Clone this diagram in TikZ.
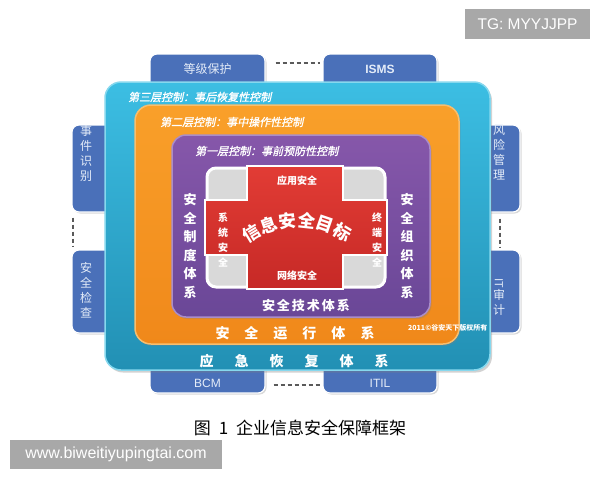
\documentclass[tikz,border=0pt]{standalone}
\usepackage{fontspec}
\setmainfont{Liberation Sans}
\newfontfamily\cjk{Noto Sans CJK SC}
\newfontfamily\cjksl[FakeSlant=0.22,FakeBold=1.2]{Noto Sans CJK SC}
\usetikzlibrary{shadows}
\definecolor{tabblue}{HTML}{4A70B9}
\definecolor{tabtxtc}{HTML}{E4ECF8}
\definecolor{cyanT}{HTML}{3CBEE3}
\definecolor{cyanB}{HTML}{2290B4}
\definecolor{cyanL}{HTML}{86D8EE}
\definecolor{orangeT}{HTML}{F9A02A}
\definecolor{orangeB}{HTML}{F0881A}
\definecolor{orangeL}{HTML}{F7BE6E}
\definecolor{purpT}{HTML}{8657AA}
\definecolor{purpB}{HTML}{6A4797}
\definecolor{purpL}{HTML}{A98DC9}
\definecolor{redT}{HTML}{E23C35}
\definecolor{redB}{HTML}{C62926}
\definecolor{redL}{HTML}{9E1E1C}
\definecolor{grayc}{HTML}{D9D9D9}
\definecolor{wm}{HTML}{A8A8A8}
\definecolor{dashc}{HTML}{5A5A5A}
\tikzset{
  tabbox/.style={draw=white, line width=1.2pt, fill=tabblue, rounded corners=7pt, inner sep=0pt,
    drop shadow={shadow xshift=1.5pt, shadow yshift=-1.5pt, opacity=0.3}},
  tabtxt/.style={text=tabtxtc, font=\cjk\fontsize{12}{15}\selectfont, align=center, inner sep=0pt},
  tabsans/.style={text=tabtxtc, font=\bfseries\fontsize{12}{12}\selectfont, inner sep=0pt},
  dashline/.style={draw=dashc, line width=1.6pt, dash pattern=on 4pt off 3pt},
  layer/.style={line width=1.5pt, inner sep=0pt},
  laytitle/.style={text=white, font=\cjksl\fontsize{11}{11}\selectfont, anchor=west, inner sep=0pt},
  systxt/.style={text=white, font=\cjk\bfseries\fontsize{13}{18.6}\selectfont, align=center, inner sep=0pt},
  bigtxt/.style={text=white, font=\cjk\bfseries\fontsize{14}{14}\selectfont, inner sep=0pt},
  smalltxt/.style={text=white, font=\cjk\bfseries\fontsize{10}{15}\selectfont, align=center, inner sep=0pt},
  goaltxt/.style={text=white, font=\cjk\bfseries\fontsize{17.5}{17.5}\selectfont, inner sep=0pt},
  wmbox/.style={fill=wm, text=white, inner sep=0pt}
}
\begin{document}
\begin{tikzpicture}[x=1pt,y=-1pt]
\useasboundingbox (0,0) rectangle (600,480);
\fill[white] (0,0) rectangle (600,480);

% side tabs
\node[tabbox, minimum width=115pt, minimum height=38pt] (dj) at (207.5,73) {};
\node[tabbox, minimum width=114pt, minimum height=38pt] (isms) at (380,73) {};
\node[tabbox, minimum width=115pt, minimum height=33pt] (bcm) at (207.5,376.5) {};
\node[tabbox, minimum width=114pt, minimum height=33pt] (itil) at (380,376.5) {};
\node[tabbox, minimum width=40pt, minimum height=87pt] (sjsb) at (92,168.5) {};
\node[tabbox, minimum width=40pt, minimum height=83pt] (aqjc) at (92,291.5) {};
\node[tabbox, minimum width=40pt, minimum height=87pt] (fxgl) at (500,168.5) {};
\node[tabbox, minimum width=40pt, minimum height=83pt] (itsj) at (500,291.5) {};

\draw[dashline] ([yshift=10pt]dj.east) ++(10pt,0) -- ([yshift=10pt,xshift=-2pt]isms.west);
\draw[dashline] ([yshift=-8.5pt,xshift=8pt]bcm.east) -- ([yshift=-8.5pt,xshift=-2pt]itil.west);
\draw[dashline] ([xshift=-19pt,yshift=-5pt]sjsb.south) -- ([xshift=-19pt,yshift=3pt]aqjc.north);
\draw[dashline] ([yshift=-6pt]fxgl.south) -- ([yshift=2pt]itsj.north);

\node[tabtxt] (dj-t) at (207.5,69) {等级保护};
\node[tabsans] (isms-t) at (380,69) {ISMS};
\node[tabsans, font=\fontsize{12}{12}\selectfont] (bcm-t) at (207.5,383) {BCM};
\node[tabsans, font=\fontsize{12}{12}\selectfont] (itil-t) at (380,383) {ITIL};
\node[tabtxt] (sjsb-t) at (86,153) {事\\件\\识\\别};
\node[tabtxt] (aqjc-t) at (86,290) {安\\全\\检\\查};
\node[tabtxt] (fxgl-t) at (499,153) {风\\险\\管\\理};
\node[tabtxt] (itsj-t) at (499,297) {\rotatebox{-90}{\fontsize{11}{11}\selectfont IT}\\审\\计};

% layers
\node[layer, draw=cyanL, top color=cyanT, bottom color=cyanB, rounded corners=16pt,
  minimum width=385pt, minimum height=288pt,
  drop shadow={shadow xshift=2pt, shadow yshift=-2.5pt, opacity=0.35}] (l3) at (297.5,226) {};
\node[layer, draw=orangeL, top color=orangeT, bottom color=orangeB, rounded corners=16pt,
  minimum width=324pt, minimum height=239pt,
  drop shadow={shadow xshift=1.5pt, shadow yshift=-2pt, opacity=0.3}] (l2) at (297,224.5) {};
\node[layer, draw=purpL, top color=purpT, bottom color=purpB, rounded corners=14pt,
  minimum width=258pt, minimum height=182pt,
  drop shadow={shadow xshift=1.5pt, shadow yshift=-2pt, opacity=0.3}] (l1) at (301,226) {};

% inner target
\node[draw=white, line width=3pt, fill=grayc, rounded corners=9pt, minimum width=178pt,
  minimum height=119pt, inner sep=0pt] (core) at (296,227.5) {};
\path[draw=white, line width=1.2pt, top color=redT, bottom color=redB]
  (247,166) -- (343,166) -- (343,200) -- (387,200) -- (387,255) -- (343,255) -- (343,289)
  -- (247,289) -- (247,255) -- (205,255) -- (205,200) -- (247,200) -- cycle;

\node[smalltxt] (yy) at (297,181) {应用安全};
\node[smalltxt] (wl) at (297,276) {网络安全};
\node[smalltxt] (xt) at (223,240) {系\\统\\安\\全};
\node[smalltxt] (zd) at (377,240) {终\\端\\安\\全};

\foreach \c [count=\i] in {信,息,安,全,目,标} {
  \pgfmathsetmacro{\a}{-43.75+12.5*\i}
  \pgfmathsetmacro{\r}{43.75-12.5*\i}
  \node[goaltxt, rotate=\r] (g\i) at ({297+88*sin(\a)},{308-88*cos(\a)}) {\c};
}

% layer titles
\node[laytitle] (t3) at (128,97) {第三层控制：事后恢复性控制};
\node[laytitle] (t2) at (160,122) {第二层控制：事中操作性控制};
\node[laytitle] (t1) at (195,151) {第一层控制：事前预防性控制};

\node[systxt] (zdtx) at (190,246) {安\\全\\制\\度\\体\\系};
\node[systxt] (zztx) at (407,246) {安\\全\\组\\织\\体\\系};
\node[systxt] (jstx) at (306,306) {安\hspace{2pt}全\hspace{2pt}技\hspace{2pt}术\hspace{2pt}体\hspace{2pt}系};
\node[bigtxt] (yxtx) at (295,333) {安\hspace{15pt}全\hspace{15pt}运\hspace{15pt}行\hspace{15pt}体\hspace{15pt}系};
\node[bigtxt] (hftx) at (294,361) {应\hspace{21pt}急\hspace{21pt}恢\hspace{21pt}复\hspace{21pt}体\hspace{21pt}系};
\node[text=white, font=\cjk\bfseries\fontsize{7}{7}\selectfont, anchor=west, inner sep=0pt] (cp) at (408,328) {2011©谷安天下版权所有};

% caption and watermarks
\node[text=black, font=\cjk\fontsize{17}{17}\selectfont, inner sep=0pt] (cap) at (300,428) {图\hspace{8pt}1\hspace{8pt}企业信息安全保障框架};
\node[wmbox, minimum width=212pt, minimum height=29pt, font=\fontsize{16}{16}\selectfont] (web) at (116,454.5) {www.biweitiyupingtai.com};
\node[wmbox, minimum width=125pt, minimum height=30pt, font=\fontsize{15.5}{15.5}\selectfont] (tg) at (527.5,24) {TG: MYYJJPP};
\end{tikzpicture}
\end{document}
